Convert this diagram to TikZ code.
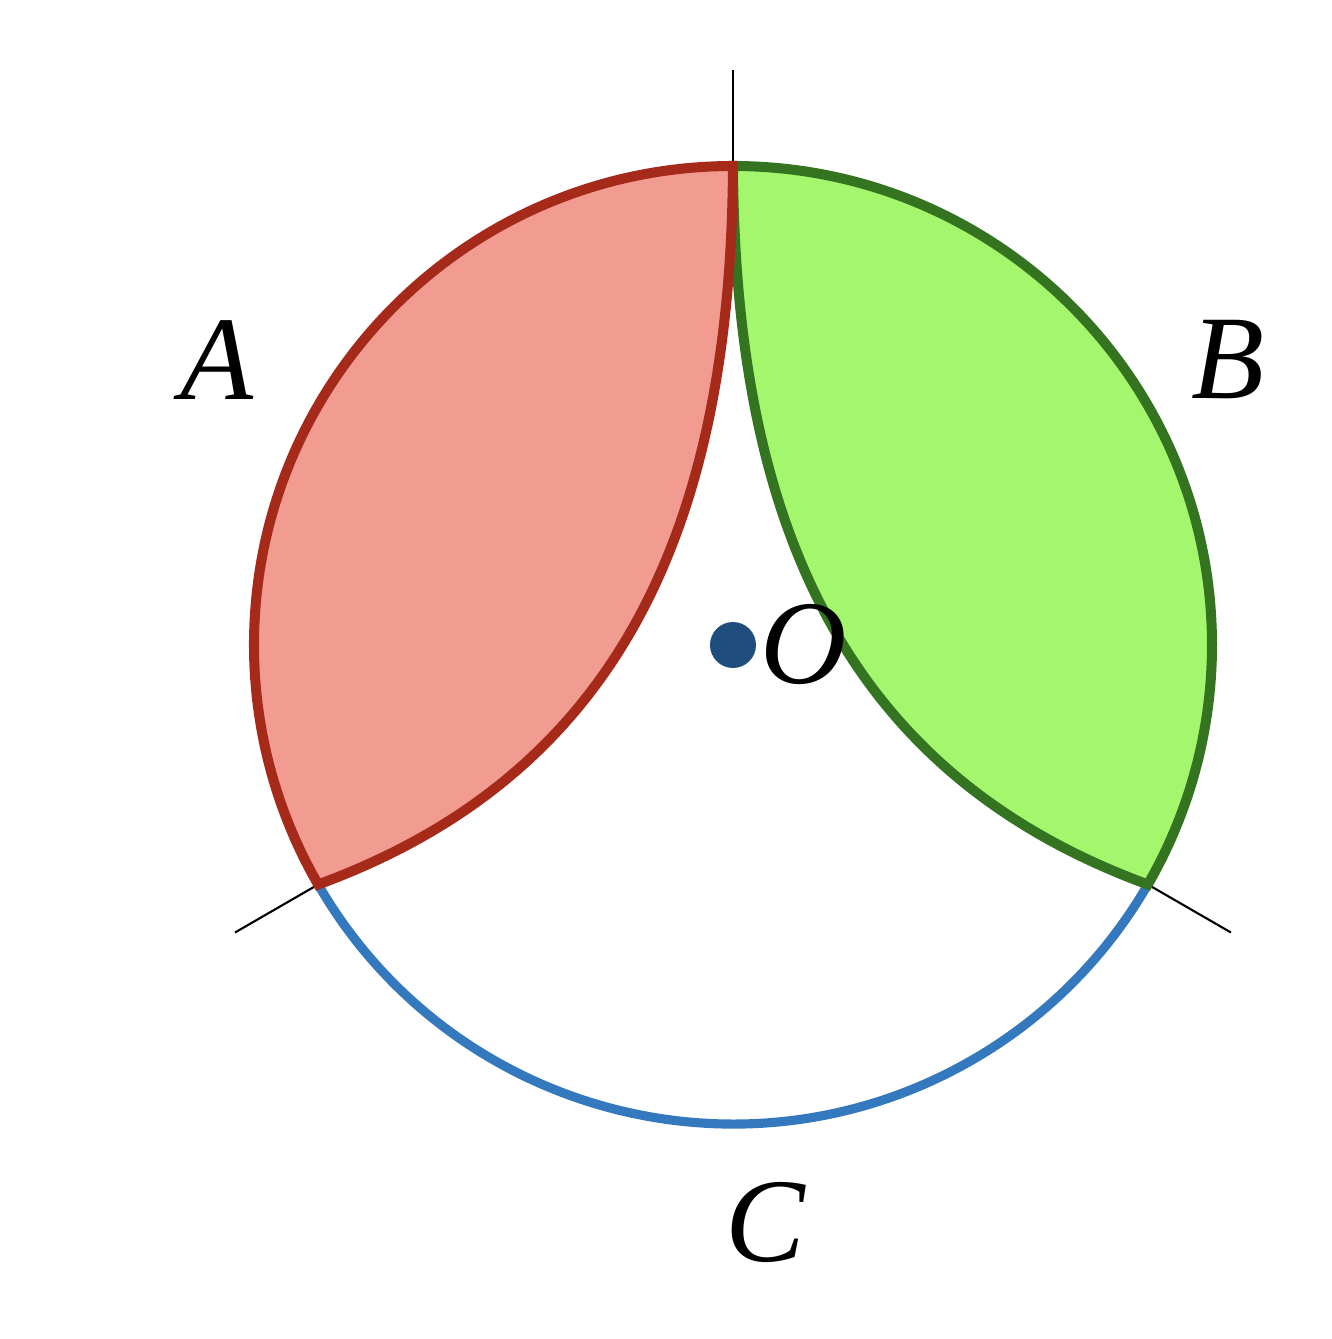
\documentclass[tikz,border=0pt]{standalone}
\usepackage{fontspec}
\setmainfont{Liberation Serif}
\usetikzlibrary{positioning}
\definecolor{mred}{HTML}{A52A1A}
\definecolor{mpink}{HTML}{F19B91}
\definecolor{mgreen}{HTML}{347420}
\definecolor{mlime}{HTML}{A4F76C}
\definecolor{mblue}{HTML}{3478BE}
\definecolor{mnavy}{HTML}{1F4E7E}
\tikzstyle{region} = [line width=2.85pt, line join=miter]
\tikzstyle{rim} = [line width=2.6pt, draw=mblue]
\tikzstyle{spoke} = [line width=0.6pt, draw=black]
\tikzstyle{letter} = [inner sep=0pt, font=\fontsize{34}{40}\selectfont\itshape]
\tikzstyle{centre} = [circle, fill=mnavy, minimum size=0.46cm, inner sep=0pt]

\begin{document}
\begin{tikzpicture}
\useasboundingbox (-7.33,-6.94) rectangle (5.99,6.45);
%Points on the circle
\coordinate (top) at (90:4.79);
\coordinate (left) at (210:4.79);
\coordinate (right) at (330:4.79);
\coordinate (topend) at (90:5.75);
\coordinate (leftend) at (210:5.75);
\coordinate (rightend) at (330:5.75);
%Radial lines
\draw [spoke] (top) -- (topend);
\draw [spoke] (left) -- (leftend);
\draw [spoke] (right) -- (rightend);
%Arc C
\draw [rim] (left) arc[start angle=210, end angle=330, radius=4.79];
%Region B
\draw [region, draw=mgreen, fill=mlime] (top) arc[start angle=90, end angle=-30, radius=4.79]
  .. controls (1.16,-1.30) and (0.02,1.15) .. cycle;
%Region A
\draw [region, draw=mred, fill=mpink] (top) arc[start angle=90, end angle=210, radius=4.79]
  .. controls (-1.16,-1.30) and (-0.02,1.15) .. cycle;
%Labels
\node (dot) [centre] at (0,0) {};
\node (o) [letter, right = 0.03cm of dot] {O};
\node (a) [letter] at (-5.16,2.85) {A};
\node (b) [letter] at (4.95,2.85) {B};
\node (c) [letter] at (0.32,-5.77) {C};
\end{tikzpicture}
\end{document}
